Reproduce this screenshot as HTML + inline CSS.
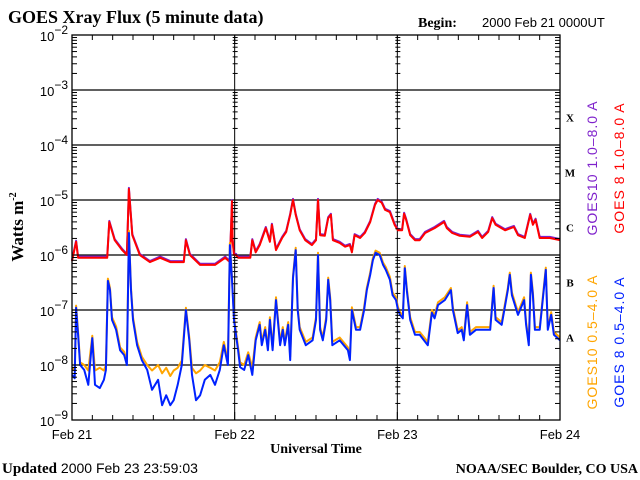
<!DOCTYPE html>
<html><head><meta charset="utf-8"><style>
html,body{margin:0;padding:0;background:#fff;}
svg{display:block;}
.serif{font-family:"Liberation Serif",serif;font-weight:bold;}
.sans{font-family:"Liberation Sans",sans-serif;}
</style></head><body>
<svg id="chart" width="640" height="480" viewBox="0 0 640 480" xmlns="http://www.w3.org/2000/svg">
<rect width="640" height="480" fill="#fff"/>
<text class="serif" x="8" y="23" font-size="18">GOES Xray Flux (5 minute data)</text>
<text class="serif" x="418" y="27" font-size="14">Begin:</text>
<text class="sans" x="482" y="27" font-size="13">2000 Feb 21 0000UT</text>
<text class="serif" font-size="17" transform="translate(23,227) rotate(-90)" text-anchor="middle">Watts m<tspan font-size="10" dy="-7">-2</tspan></text>
<text class="serif" x="316" y="453" font-size="14" text-anchor="middle">Universal Time</text>
<text x="2" y="473" font-size="15"><tspan class="serif">Updated</tspan><tspan class="sans" font-size="14"> 2000 Feb 23 23:59:03</tspan></text>
<text class="serif" x="638" y="473" font-size="14" text-anchor="end">NOAA/SEC Boulder, CO USA</text>
<g id="grid"></g>
<g id="series"></g>
<g id="axes"></g>
<text class="sans" font-size="14" letter-spacing="1" fill="#7f22cc" transform="translate(597,168) rotate(-90)" text-anchor="middle">GOES10 1.0–8.0 A</text>
<text class="sans" font-size="14" letter-spacing="1" fill="#ff0000" transform="translate(624,168) rotate(-90)" text-anchor="middle">GOES 8 1.0–8.0 A</text>
<text class="sans" font-size="14" letter-spacing="1" fill="#ffa500" transform="translate(597,342) rotate(-90)" text-anchor="middle">GOES10 0.5–4.0 A</text>
<text class="sans" font-size="14" letter-spacing="1" fill="#0022ff" transform="translate(624,342) rotate(-90)" text-anchor="middle">GOES 8 0.5–4.0 A</text>
</svg>
<script>
// log10 flux (W/m^2) vs hours since 2000 Feb 21 00:00 UT
const longTimes=[0,0.6,0.9,5.2,5.5,6.3,7.4,8.1,8.4,8.9,10.0,11.5,13.0,14.5,16.5,16.8,17.4,18.9,21.1,22.6,23.3,23.6,23.7,23.9,24.2,24.5,26.3,26.6,27.1,27.7,28.6,29.2,29.5,30.1,31.0,31.6,32.2,32.6,33.0,33.6,34.4,35.4,36.0,36.3,36.6,37.3,37.8,38.2,38.5,39.5,40.3,41.0,41.3,41.7,42.5,43.2,44.0,44.7,45.1,45.7,46.2,46.9,47.6,48.1,48.7,49.0,49.3,49.9,50.6,51.3,52.1,53.5,54.9,55.3,56.1,57.2,58.7,59.9,60.5,61.4,62.0,62.5,63.9,65.2,65.8,66.8,67.6,68.0,68.4,69.0,70.5,72.0];
const goes8Long=[-6.11,-5.76,-6.05,-6.05,-5.40,-5.73,-5.91,-6.0,-4.80,-5.64,-6.0,-6.13,-6.05,-6.13,-6.13,-5.73,-6.0,-6.18,-6.18,-6.05,-6.13,-5.02,-5.73,-6.0,-6.0,-6.05,-6.05,-5.73,-5.95,-5.82,-5.51,-5.76,-5.45,-5.91,-5.69,-5.58,-5.27,-5.0,-5.27,-5.55,-5.73,-5.82,-5.73,-5.0,-5.64,-5.65,-5.33,-5.27,-5.73,-5.78,-5.85,-5.82,-5.95,-5.64,-5.69,-5.6,-5.40,-5.09,-5.0,-5.05,-5.18,-5.22,-5.45,-5.55,-5.55,-5.25,-5.36,-5.64,-5.73,-5.73,-5.6,-5.51,-5.40,-5.51,-5.6,-5.65,-5.67,-5.58,-5.69,-5.58,-5.33,-5.45,-5.55,-5.49,-5.64,-5.69,-5.27,-5.45,-5.36,-5.69,-5.69,-5.73];
const shortTimes=[0,0.4,0.6,0.9,1.2,1.8,2.4,3.0,3.4,4.1,4.7,5.0,5.3,5.6,5.9,6.5,7.1,7.7,8.1,8.4,8.7,9.0,9.6,10.3,11.1,11.8,12.7,13.3,13.9,14.5,15.0,15.6,16.2,16.8,17.3,17.7,18.3,18.9,19.6,20.4,21.1,21.8,22.4,23.0,23.3,23.6,23.9,24.2,24.5,24.8,25.4,26.0,26.6,27.1,27.7,28.0,28.5,28.9,29.2,29.6,30.1,30.7,31.1,31.4,31.9,32.2,32.6,33.0,33.3,33.6,34.5,35.5,36.0,36.3,36.6,37.0,37.5,37.8,38.1,38.4,39.5,40.7,41.0,41.3,41.9,42.5,43.1,43.5,44.0,44.4,44.8,45.4,45.9,46.3,46.9,47.3,47.8,48.1,48.4,48.8,49.1,49.4,49.9,50.6,51.3,52.5,53.1,53.5,54.0,55.0,55.9,56.2,56.9,57.5,57.8,58.3,58.7,59.6,60.8,61.7,62.2,62.5,63.4,64.3,64.6,64.9,65.8,66.7,67.0,67.4,67.7,68.0,68.3,69.0,69.9,70.2,70.7,71.1,72.0];
const goes8Short=[-8.18,-8.24,-6.96,-7.45,-8.0,-8.09,-8.36,-7.51,-8.36,-8.42,-8.27,-8.09,-6.47,-6.64,-7.18,-7.36,-7.73,-7.82,-8.0,-5.6,-6.64,-7.18,-7.64,-7.91,-8.09,-8.45,-8.27,-8.73,-8.55,-8.73,-8.64,-8.36,-8.0,-7.0,-7.55,-8.18,-8.64,-8.55,-8.27,-8.18,-8.36,-8.09,-7.64,-8.0,-5.82,-6.45,-7.18,-7.45,-7.73,-8.04,-8.09,-7.82,-8.18,-7.55,-7.27,-7.64,-7.36,-7.73,-7.18,-7.73,-6.82,-7.64,-7.36,-7.64,-7.27,-7.91,-6.42,-5.91,-7.0,-7.36,-7.64,-7.55,-7.18,-6.0,-7.36,-7.55,-7.18,-6.45,-6.82,-7.64,-7.55,-7.73,-7.91,-7.0,-7.36,-7.36,-7.0,-6.64,-6.36,-6.09,-5.96,-6.0,-6.18,-6.27,-6.45,-6.73,-6.82,-7.0,-7.09,-7.15,-6.24,-6.64,-7.18,-7.45,-7.45,-7.64,-7.05,-7.15,-6.91,-6.82,-6.64,-7.0,-7.42,-7.36,-7.55,-6.91,-7.45,-7.36,-7.36,-7.36,-6.6,-7.18,-7.27,-6.64,-6.36,-6.73,-7.09,-6.82,-7.27,-7.64,-6.36,-6.73,-7.36,-7.36,-6.27,-7.36,-7.09,-7.45,-7.55];
const goes10Short=[-8.05,-8.1,-6.92,-7.4,-7.95,-8.0,-8.1,-7.47,-8.1,-8.05,-8.1,-8.0,-6.43,-6.6,-7.13,-7.3,-7.68,-7.76,-7.93,-5.56,-6.6,-7.13,-7.58,-7.85,-8.0,-8.1,-8.0,-8.15,-8.05,-8.2,-8.1,-8.05,-7.92,-6.96,-7.5,-8.05,-8.15,-8.1,-8.0,-8.05,-8.1,-7.95,-7.58,-7.92,-5.78,-6.4,-7.13,-7.4,-7.68,-7.95,-8.0,-7.77,-8.05,-7.5,-7.22,-7.58,-7.31,-7.68,-7.13,-7.68,-6.77,-7.58,-7.31,-7.58,-7.22,-7.85,-6.38,-5.87,-6.95,-7.31,-7.58,-7.5,-7.13,-5.96,-7.31,-7.5,-7.13,-6.41,-6.77,-7.58,-7.5,-7.68,-7.85,-6.95,-7.31,-7.31,-6.95,-6.6,-6.32,-6.05,-5.92,-5.96,-6.14,-6.22,-6.4,-6.68,-6.77,-6.95,-7.04,-7.1,-6.2,-6.6,-7.13,-7.4,-7.4,-7.58,-7.0,-7.1,-6.86,-6.77,-6.6,-6.95,-7.37,-7.31,-7.5,-6.86,-7.4,-7.31,-7.31,-7.31,-6.56,-7.13,-7.22,-6.6,-6.32,-6.68,-7.04,-6.77,-7.22,-7.58,-6.32,-6.68,-7.31,-7.31,-6.23,-7.31,-7.04,-7.4,-7.5];
const decades=[-2,-3,-4,-5,-6,-7,-8,-9];
const dayLabels=["Feb 21","Feb 22","Feb 23","Feb 24"];
const classLetters=["X","M","C","B","A"];
const classLevels=[-4,-5,-6,-7,-8];

const NS="http://www.w3.org/2000/svg";
const X0=72,X1=560,Y0=35,Y1=420,TMAX=72,LTOP=-2,LBOT=-9;
function xs(h){return X0+(h/TMAX)*(X1-X0);}
function ys(l){return Y0+(LTOP-l)/(LTOP-LBOT)*(Y1-Y0);}
function mk(tag,attrs,parent){const e=document.createElementNS(NS,tag);for(const k in attrs)e.setAttribute(k,attrs[k]);parent.appendChild(e);return e;}
const grid=document.getElementById('grid'),axes=document.getElementById('axes'),ser=document.getElementById('series');

decades.forEach(d=>{
  if(d===LTOP||d===LBOT)return;
  const l=mk('line',{x1:X0,x2:X1,y1:ys(d),y2:ys(d),stroke:'#000','stroke-width':1.3},grid);
  
  
});
for(let d=1;d<3;d++){
  const x=xs(d*24);
  const l=mk('line',{x1:x,x2:x,y1:Y0,y2:Y1,stroke:'#000','stroke-width':1},grid);
  
  
}
for(let d=LTOP;d>LBOT;d--){
  for(let k=1;k<10;k++){
    const y=ys(d-1+Math.log10(k));
    const len=k===1?8:5;
    mk('line',{x1:X0,x2:X0+len,y1:y,y2:y,stroke:'#000'},axes);
    mk('line',{x1:X1,x2:X1-len,y1:y,y2:y,stroke:'#000'},axes);
    for(let dd=1;dd<3;dd++){const x=xs(dd*24);mk('line',{x1:x-2,x2:x+3,y1:y,y2:y,stroke:'#000'},axes);}
  }
}
for(let h=0;h<=TMAX;h+=3){
  const x=xs(h),len=h%24===0?8:5;
  mk('line',{x1:x,x2:x,y1:Y1,y2:Y1-len,stroke:'#000'},axes);
  mk('line',{x1:x,x2:x,y1:Y0,y2:Y0+len,stroke:'#000'},axes);
}
const frame=mk('rect',{x:X0,y:Y0,width:X1-X0,height:Y1-Y0,fill:'none',stroke:'#000','stroke-width':1.3},axes);


decades.forEach(d=>{
  const t=mk('text',{x:X0-4,y:ys(d)+6,'text-anchor':'end','font-family':'Liberation Sans,sans-serif','font-size':13},axes);
  
  
  t.textContent='10';
  const s=mk('tspan',{dy:-7,'font-size':12},t);s.textContent='−'+(-d);
});
dayLabels.forEach((lab,i)=>{
  const t=mk('text',{x:xs(i*24),y:439,'text-anchor':'middle','font-family':'Liberation Sans,sans-serif','font-size':13},axes);
  
  
  t.textContent=lab;
});
classLetters.forEach((c,i)=>{
  const t=mk('text',{x:570,y:(ys(classLevels[i])+ys(classLevels[i]+1))/2+4,'text-anchor':'middle','font-family':'Liberation Serif,serif','font-weight':'bold','font-size':11},axes);
  
  
  t.textContent=c;
});
function linePath(times,vals){
  let d='';
  for(let i=0;i<times.length;i++){d+=(i?' L':'M')+xs(times[i]).toFixed(1)+','+ys(vals[i]).toFixed(1);}
  return d;
}
function drawSeries(times,vals,color,w,name){
  const p=mk('path',{d:linePath(times,vals),fill:'none',stroke:color,'stroke-width':w,'stroke-linejoin':'round'},ser);
  
  
}
drawSeries(longTimes,goes8Long.map(v=>v+0.02),'#7f22cc',2,'goes10-long-line');
drawSeries(longTimes,goes8Long,'#ff0000',2,'goes8-long-line');
drawSeries(shortTimes,goes10Short,'#ffa500',2,'goes10-short-line');
drawSeries(shortTimes,goes8Short,'#0022ff',2,'goes8-short-line');
</script>
</body></html>
